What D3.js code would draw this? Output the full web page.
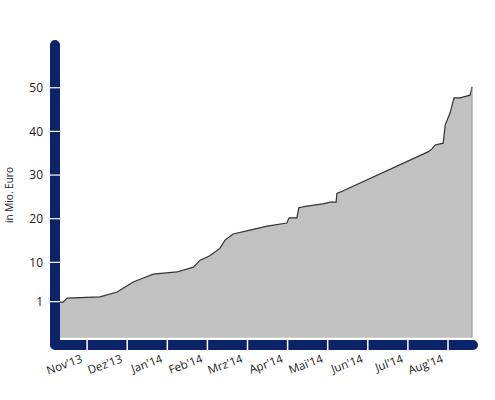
<!DOCTYPE html>
<html><head><meta charset="utf-8">
<script src="https://cdn.jsdelivr.net/npm/d3@7"></script>
<style>body{margin:0;background:#fff}text{font-family:"Open Sans",sans-serif;fill:#222}</style>
</head><body><svg id="c" width="495" height="400"></svg>
<script>
const months = ["Nov'13","Dez'13","Jan'14","Feb'14","Mrz'14","Apr'14","Mai'14","Jun'14","Jul'14","Aug'14"];
const yTicks = [1,10,20,30,40,50];
const t = [0.25,0.4,0.5,1.32,1.75,2.15,2.4,2.65,3.24,3.65,3.82,4.06,4.31,4.44,4.64,5.06,5.49,5.98,6.04,6.23,6.28,6.48,6.88,7.06,7.21,7.23,7.36,9.5,9.6,9.68,9.88,9.93,10.05,10.15,10.3,10.55,10.6];
const v = [0.9,0.9,1.8,2.1,3.2,5.5,6.4,7.3,7.8,8.9,10.5,11.5,13.2,15.1,16.5,17.4,18.3,19,20.2,20.2,22.5,22.9,23.4,23.8,23.8,25.8,26.3,35.3,36,36.9,37.3,41.5,44.2,47.7,47.7,48.3,50.2];
const baseline = -7.3;
const svg = d3.select("#c");
const x = d3.scaleLinear().domain([0,10]).range([47,448]);
const y = d3.scaleLinear().domain([0,40]).range([306,131.4]);
const data = t.map((d,i)=>({t:d,v:v[i]}));
svg.append("path").datum(data).attr("fill","#c1c1c1")
  .attr("d",d3.area().x(d=>x(d.t)).y0(y(baseline)).y1(d=>y(d.v)));
svg.append("path").datum(data).attr("fill","none").attr("stroke","#333").attr("stroke-width",1.2)
  .attr("d",d3.line().x(d=>x(d.t)).y(d=>y(d.v)));
svg.append("path").datum(data.slice(-1)).attr("stroke","#999").attr("stroke-width",1)
  .attr("d",d=>`M${x(d[0].t)},${y(d[0].v)}V${y(baseline)}`);
// axis bars
svg.append("path").attr("d","M55,45V345H473").attr("fill","none").attr("stroke","#0b2368")
  .attr("stroke-width",10).attr("stroke-linecap","round").attr("stroke-linejoin","round");
d3.range(1,11).forEach(k=>svg.append("line").attr("x1",x(k)).attr("x2",x(k)).attr("y1",340).attr("y2",350).attr("stroke","#fff").attr("stroke-width",1.5));
yTicks.forEach(d=>{
  svg.append("line").attr("x1",50).attr("x2",60).attr("y1",y(d)).attr("y2",y(d)).attr("stroke","#fff").attr("stroke-width",1.2);
  svg.append("text").attr("x",43).attr("y",y(d)).attr("dy","0.35em").attr("text-anchor","end").attr("font-size",12).text(d);
});
months.forEach((m,i)=>{
  svg.append("text").attr("transform",`translate(${x(i+1)-4},362) rotate(-20)`).attr("text-anchor","end").attr("font-size",11.5).text(m);
});
svg.append("text").attr("transform","translate(13,195) rotate(-90)").attr("text-anchor","middle").attr("font-size",10).text("in Mio. Euro");
</script></body></html>
